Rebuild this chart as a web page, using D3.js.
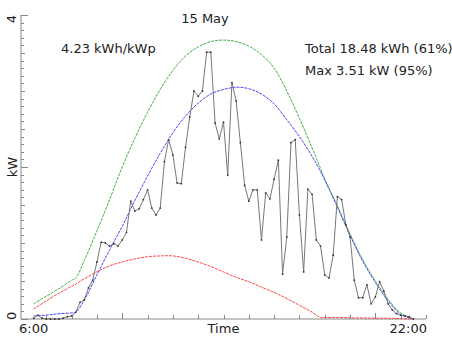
<!DOCTYPE html>
<html>
<head>
<meta charset="utf-8">
<script src="https://cdn.jsdelivr.net/npm/d3@7"></script>
<style>
  body { margin: 0; background: #fff; }
  text { font-family: "DejaVu Sans", sans-serif; fill: #222; }
</style>
</head>
<body>
<script>
// size of the picture
var width = 452;
var height = 339;

// measured power, one sample every 10 min starting 6:30 (kW)
var sampleStart = 6.5;
var sampleStepMin = 10;
var measured = [0.01, 0.05, 0.01, 0, 0, 0, 0, 0.01, 0.03, 0.04,
                0.09, 0.22, 0.25, 0.41, 0.51, 0.75, 1.01, 1.00, 0.96, 0.99,
                0.96, 1.04, 1.14, 1.55, 1.42, 1.45, 1.57, 1.70, 1.46, 1.37,
                1.46, 2.07, 2.36, 2.16, 1.79, 1.78, 2.26, 2.66, 3.00, 2.93,
                3.00, 3.51, 3.51, 2.58, 2.37, 2.59, 1.89, 3.11, 2.87, 2.32,
                1.76, 1.55, 1.70, 1.70, 1.04, 1.66, 1.58, 1.84, 2.09, 0.59,
                1.08, 2.32, 2.36, 1.37, 0.62, 1.71, 1.64, 1.04, 0.96, 0.58,
                0.54, 0.84, 1.61, 1.57, 1.24, 1.08, 0.51, 0.28, 0.28, 0.45,
                0.20, 0.29, 0.49, 0.37, 0.20, 0.12, 0.07, 0.05, 0.04, 0.03, 0];

// model curves (kW)
var modelTimes = ["6:30", "7:00", "7:30", "8:00", "8:10", "8:30", "9:00", "9:30", "10:00", "10:30",
                  "11:00", "11:30", "12:00", "12:30", "13:00", "13:30", "14:00", "14:30", "15:00", "15:30",
                  "16:00", "16:30", "17:00", "17:30", "17:50", "18:00", "18:30", "19:00", "19:30", "20:00",
                  "20:30", "21:00", "21:30"];
var clearSky = [0.20, 0.30, 0.40, 0.51, 0.54, 0.77, 1.16, 1.57, 2.00, 2.38,
                2.72, 3.02, 3.27, 3.46, 3.58, 3.65, 3.67, 3.65, 3.59, 3.48,
                3.30, 3.00, 2.64, 2.25, 1.98, 1.84, 1.49, 1.12, 0.78, 0.50,
                0.26, 0.08, 0];
var expected = [0.04, 0.05, 0.07, 0.08, 0.09, 0.25, 0.58, 0.91, 1.22, 1.56,
                1.88, 2.18, 2.45, 2.67, 2.84, 2.96, 3.02, 3.05, 3.03, 2.96,
                2.83, 2.62, 2.40, 2.14, 1.94, 1.83, 1.47, 1.10, 0.76, 0.48,
                0.24, 0.06, 0];
var diffuse = [0.13, 0.24, 0.34, 0.43, 0.46, 0.53, 0.62, 0.70, 0.75, 0.79,
               0.82, 0.83, 0.83, 0.80, 0.75, 0.69, 0.62, 0.55, 0.49, 0.42,
               0.35, 0.27, 0.18, 0.09, 0.02, 0.02, 0.02, 0.015, 0.015, 0.01,
               0.01, 0.005, 0];

// texts
var title = "15 May";
var yieldText = "4.23 kWh/kWp";
var totalText = "Total 18.48 kWh (61%)";
var maxText = "Max 3.51 kW (95%)";

function toHours(s) {
  var p = s.split(":");
  return +p[0] + (+p[1]) / 60;
}

var svg = d3.select("body").append("svg")
            .attr("width", width)
            .attr("height", height);

var x = d3.scaleLinear().domain([6, 22]).range([21, 426]);
var y = d3.scaleLinear().domain([0, 4]).range([319, 15]);

var axisColor = "#888";

// y axis with minor ticks
svg.append("line")
   .attr("x1", x(6)).attr("x2", x(6))
   .attr("y1", y(0)).attr("y2", y(4))
   .attr("stroke", axisColor);

svg.selectAll("line.ytick")
   .data(d3.range(0, 41))
   .enter().append("line")
   .attr("class", "ytick")
   .attr("x1", x(6))
   .attr("x2", function(d) {
     if (d % 20 == 0) return x(6) + 7;
     if (d % 5 == 0) return x(6) + 4;
     return x(6) + 3;
   })
   .attr("y1", function(d) { return Math.round(y(d / 10)) + 0.5; })
   .attr("y2", function(d) { return Math.round(y(d / 10)) + 0.5; })
   .attr("stroke", axisColor);

// x axis, one tick per hour
svg.append("line")
   .attr("x1", x(6)).attr("x2", x(22))
   .attr("y1", y(0)).attr("y2", y(0))
   .attr("stroke", axisColor);

svg.selectAll("line.xtick")
   .data(d3.range(7, 23))
   .enter().append("line")
   .attr("class", "xtick")
   .attr("x1", function(d) { return Math.round(x(d)) + 0.5; })
   .attr("x2", function(d) { return Math.round(x(d)) + 0.5; })
   .attr("y1", y(0))
   .attr("y2", function(d) { return y(0) - (d % 10 == 0 ? 6 : 4); })
   .attr("stroke", axisColor);

// axis labels
svg.append("text").attr("transform", "translate(16," + y(4) + ") rotate(-90)")
   .attr("text-anchor", "end").attr("font-size", 13).text("4");
svg.append("text").attr("transform", "translate(16," + (y(0) + 1) + ") rotate(-90)")
   .attr("text-anchor", "start").attr("font-size", 13).text("0");
svg.append("text").attr("transform", "translate(17," + y(2) + ") rotate(-90)")
   .attr("text-anchor", "middle").attr("font-size", 13).text("kW");

svg.append("text").attr("x", 19).attr("y", 333)
   .attr("font-size", 13).text("6:00");
svg.append("text").attr("x", 427).attr("y", 333)
   .attr("text-anchor", "end").attr("font-size", 13).text("22:00");
svg.append("text").attr("x", (x(6) + x(22)) / 2).attr("y", 333)
   .attr("text-anchor", "middle").attr("font-size", 13).text("Time");

// model curves
var modelLine = d3.line()
                  .x(function(d) { return x(d[0]); })
                  .y(function(d) { return y(d[1]); })
                  .curve(d3.curveCatmullRom.alpha(0.5));

var models = [
  { values: clearSky, color: "rgb(70,175,70)" },
  { values: expected, color: "rgb(70,70,255)" },
  { values: diffuse, color: "rgb(255,70,70)" }
];

models.forEach(function(m) {
  var pts = modelTimes.map(function(t, i) { return [toHours(t), m.values[i]]; });
  svg.append("path")
     .attr("d", modelLine(pts))
     .attr("fill", "none")
     .attr("stroke", m.color)
     .attr("stroke-width", 1)
     .attr("stroke-dasharray", "3,1");
});

// measured series
var measuredPts = measured.map(function(v, i) {
  return [sampleStart + i * sampleStepMin / 60, v];
});

svg.append("path")
   .attr("d", d3.line()
                .x(function(d) { return x(d[0]); })
                .y(function(d) { return y(d[1]); })(measuredPts))
   .attr("fill", "none")
   .attr("stroke", "#777")
   .attr("stroke-width", 1);

svg.selectAll("circle.pt")
   .data(measuredPts)
   .enter().append("circle")
   .attr("class", "pt")
   .attr("cx", function(d) { return x(d[0]); })
   .attr("cy", function(d) { return y(d[1]); })
   .attr("r", 0.9)
   .attr("fill", "#333");

// annotations
svg.append("text").attr("x", 205).attr("y", 23)
   .attr("text-anchor", "middle").attr("font-size", 13).text(title);
svg.append("text").attr("x", 61).attr("y", 53)
   .attr("font-size", 13).text(yieldText);
svg.append("text").attr("x", 305).attr("y", 53)
   .attr("font-size", 13).text(totalText);
svg.append("text").attr("x", 305).attr("y", 75)
   .attr("font-size", 13).text(maxText);
</script>
</body>
</html>
